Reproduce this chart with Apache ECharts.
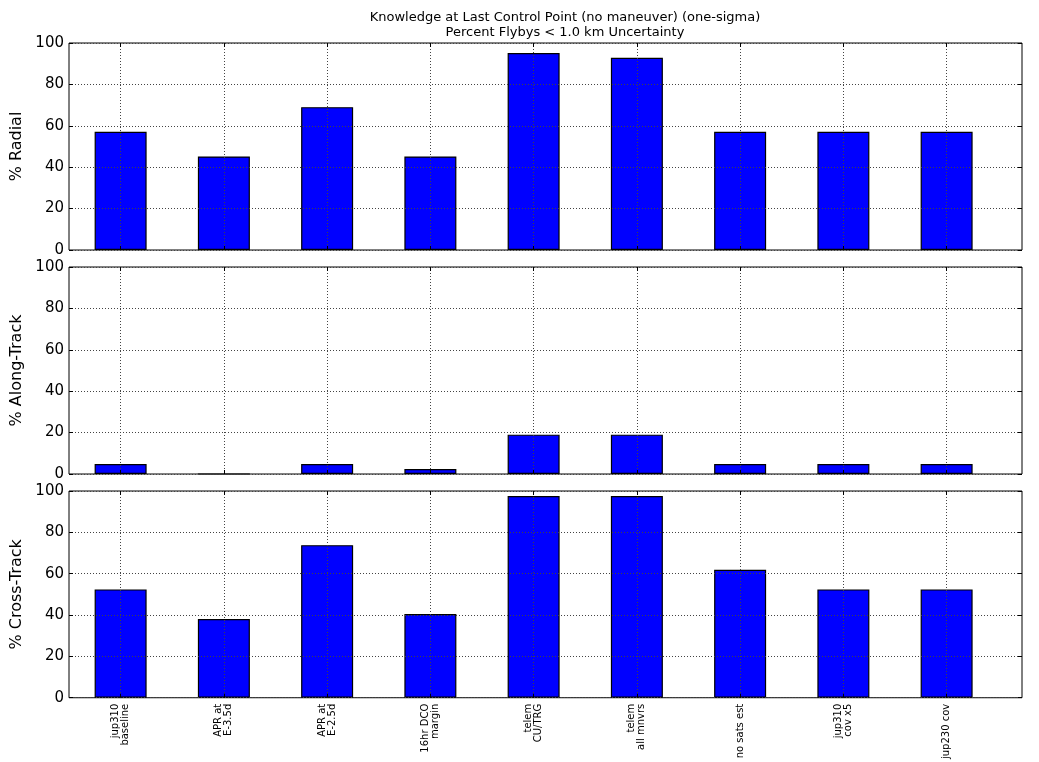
<!DOCTYPE html>
<html>
<head>
<meta charset="utf-8">
<script src="https://cdn.jsdelivr.net/npm/echarts@6/dist/echarts.min.js"></script>
<style>
  html, body { margin: 0; padding: 0; background: #fff; }
  #chart { width: 1039px; height: 762px; }
</style>
</head>
<body>
<div id="chart"></div>
<script>
// data
const categories = [
  'jup310\nbaseline', 'APR at\nE-3.5d', 'APR at\nE-2.5d', '16hr DCO\nmargin',
  'telem\nCU/TRG', 'telem\nall mnvrs', 'no sats est', 'jup310\ncov x5', 'jup230 cov'
];
const radial     = [57.1, 45.2, 69.0, 45.2, 95.2, 92.9, 57.1, 57.1, 57.1];
const alongTrack = [4.8, 0, 4.8, 2.4, 19.0, 19.0, 4.8, 4.8, 4.8];
const crossTrack = [52.4, 38.1, 73.8, 40.5, 97.6, 97.6, 61.9, 52.4, 52.4];
const yTicks = [0, 20, 40, 60, 80, 100];
const panelNames = ['% Radial', '% Along-Track', '% Cross-Track'];

const chart = echarts.init(document.getElementById('chart'));

const catIdx = categories.map((c, i) => i);
const panels = [radial, alongTrack, crossTrack];
const tops = [43, 267, 491];
const dotted = { type: [1, 2], color: '#444', width: 1 };
const tick = { show: true, inside: true, length: 4, lineStyle: { color: '#000' } };
const noLine = { show: false, onZero: false };

const grids = [], xAxes = [], yAxes = [], series = [];
panels.forEach((vals, k) => {
  grids.push({
    left: 69, right: 17, top: tops[k], height: 207,
    show: true, borderColor: '#000', borderWidth: 1, backgroundColor: 'transparent'
  });
  xAxes.push({
    gridIndex: k, type: 'value', min: -0.5, max: 8.73, position: 'bottom', zlevel: 1,
    axisLine: noLine,
    axisTick: Object.assign({ customValues: catIdx }, tick),
    axisLabel: {
      show: k === 2, customValues: catIdx, rotate: 90, fontSize: 10, color: '#000', margin: 6,
      formatter: v => categories[Math.round(v)]
    },
    splitLine: { show: true, lineStyle: dotted }
  });
  // mirror axis on top, ticks only
  xAxes.push({
    gridIndex: k, type: 'value', min: -0.5, max: 8.73, position: 'top', zlevel: 1,
    axisLine: noLine,
    axisTick: Object.assign({ customValues: catIdx }, tick),
    axisLabel: { show: false },
    splitLine: { show: false }
  });
  yAxes.push({
    gridIndex: k, type: 'value', min: 0, max: 100, interval: 20, position: 'left', zlevel: 1,
    name: panelNames[k], nameLocation: 'middle', nameGap: 38,
    nameTextStyle: { fontSize: 16, color: '#000' },
    axisLine: noLine,
    axisTick: tick,
    axisLabel: { fontSize: 15, color: '#000', margin: 5, customValues: yTicks },
    splitLine: { show: true, lineStyle: dotted }
  });
  yAxes.push({
    gridIndex: k, type: 'value', min: 0, max: 100, interval: 20, position: 'right', zlevel: 1,
    axisLine: noLine,
    axisTick: tick,
    axisLabel: { show: false },
    splitLine: { show: false }
  });
  series.push({
    type: 'bar', xAxisIndex: 2 * k, yAxisIndex: 2 * k,
    barWidth: 52,
    data: vals.map((v, i) => [i, v]),
    itemStyle: { color: '#0000ff', borderColor: '#000', borderWidth: 1.2 }
  });
});

chart.setOption({
  animation: false,
  textStyle: { fontFamily: 'DejaVu Sans' },
  title: {
    text: 'Knowledge at Last Control Point (no maneuver) (one-sigma)\nPercent Flybys < 1.0 km Uncertainty',
    left: 560, top: 5, textAlign: 'center',
    textStyle: { fontSize: 13, fontWeight: 'normal', color: '#000', lineHeight: 15 }
  },
  grid: grids,
  xAxis: xAxes,
  yAxis: yAxes,
  series: series
});
</script>
</body>
</html>
